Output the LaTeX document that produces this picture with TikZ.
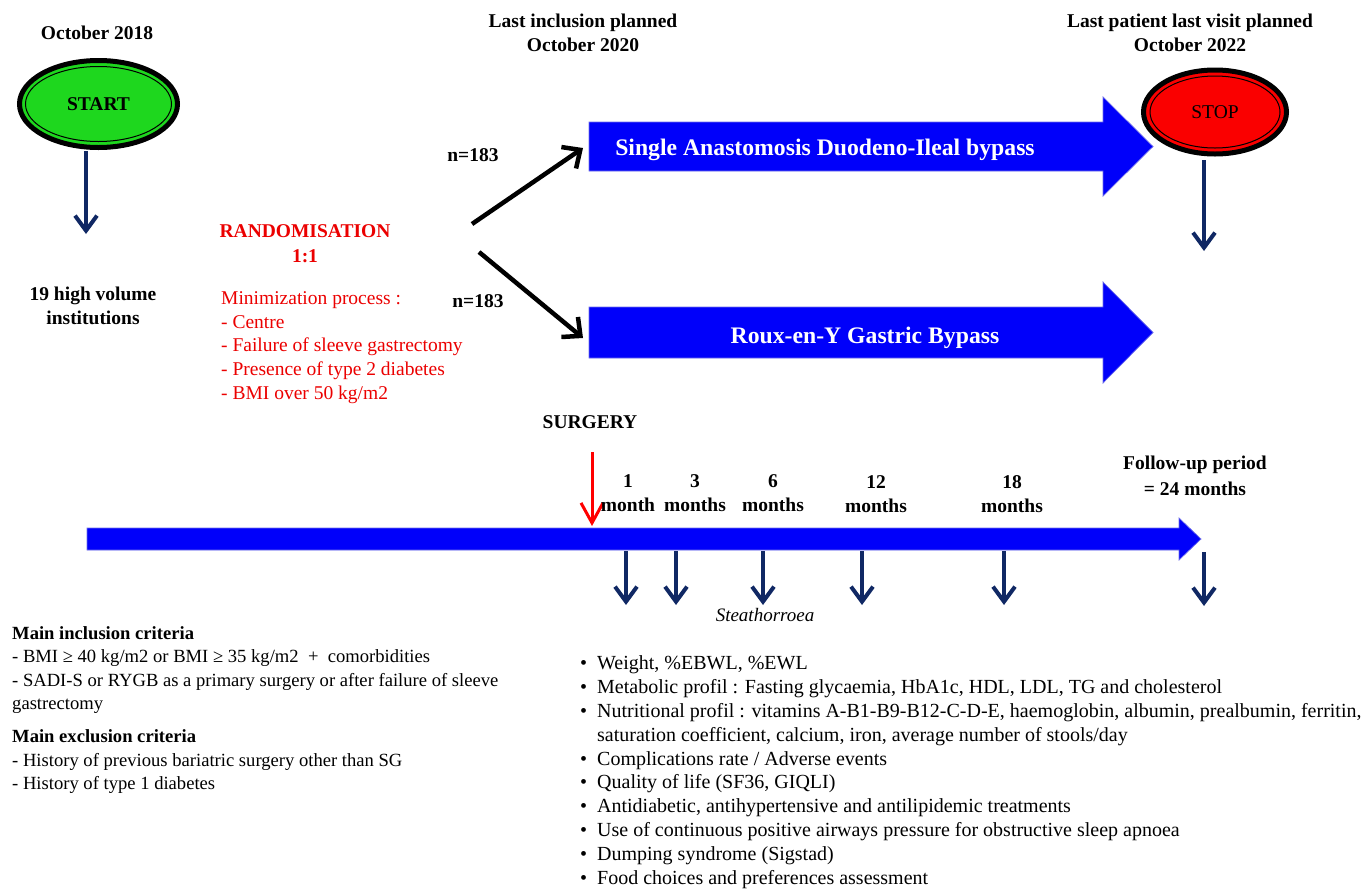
\documentclass[tikz,border=0pt]{standalone}
\usepackage{fontspec}
\setmainfont{Liberation Serif}
\usetikzlibrary{arrows.meta,shapes.geometric}
\definecolor{navy}{RGB}{16,40,100}
\definecolor{bigblue}{RGB}{0,0,250}
\definecolor{bigedge}{RGB}{110,110,235}
\definecolor{startgreen}{RGB}{30,215,30}
\definecolor{stopred}{RGB}{250,0,0}
\definecolor{txtred}{RGB}{235,0,0}
\begin{document}
\begin{tikzpicture}[x=1pt,y=-1pt,
  bt/.style={font=\fontsize{19.5}{24}\selectfont\bfseries, align=center, inner sep=0},
  navyarr/.style={draw=navy, line width=4pt, -{Straight Barb[length=15pt,width=22pt]}},
  blackarr/.style={draw=black, line width=4.5pt, -{Straight Barb[length=14pt,width=26pt]}},
  redarr/.style={draw=red, line width=3pt, -{Straight Barb[length=20pt,width=22pt]}},
  bigarrow/.style={fill=bigblue, draw=bigedge, line width=0.7pt},
  oval/.style={ellipse, draw=black, line width=5pt, inner sep=0, font=\fontsize{19.5}{24}\selectfont},
  armtext/.style={font=\fontsize{23.7}{28}\selectfont\bfseries, text=white, inner sep=0}
]
\useasboundingbox (0,0) rectangle (1365,892);

% ---------- top labels ----------
\node[bt] (oct18) at (97,33) {October 2018};
\node[bt] (lastinc) at (583,33) {Last inclusion planned\\October 2020};
\node[bt] (lastvis) at (1190,33) {Last patient last visit planned\\October 2022};

% ---------- START ----------
\node[oval, fill=startgreen, minimum width=158, minimum height=87, font=\fontsize{19.5}{24}\selectfont\bfseries] (start) at (98.5,104) {START};
\draw[line width=1pt] (start.center) ellipse [x radius=73, y radius=37.5];
\node[bt] (inst) at (93,306) {19 high volume\\institutions};
\coordinate (startout) at (86,151);
\coordinate (startend) at (86,234);
\draw[navyarr] (startout) -- (startend);

% ---------- randomisation ----------
\node[bt, text=txtred, font=\fontsize{19.5}{25}\selectfont\bfseries] (rand) at (305,244) {RANDOMISATION\\1:1};
\node[anchor=north west, inner sep=0, text=txtred, font=\fontsize{19.5}{23.6}\selectfont] (mini) at (221,288)
 {\begin{tabular}{@{}l@{}}
 Minimization process :\\
 - Centre\\
 - Failure of sleeve gastrectomy\\
 - Presence of type 2 diabetes\\
 - BMI over 50 kg/m2
 \end{tabular}};

\node[bt] (n1) at (473,155) {n=183};
\node[bt] (n2) at (478,301) {n=183};

\coordinate (fork1) at (472,224);
\coordinate (fork2) at (479,252);
\coordinate (sadiin) at (583,148);
\coordinate (rygbin) at (583,338);
\draw[blackarr] (fork1) -- (sadiin);
\draw[blackarr] (fork2) -- (rygbin);

% ---------- treatment arms ----------
\path[bigarrow] (589,122) -- (1103,122) -- (1103,97) -- (1153,146.5) -- (1103,196) -- (1103,171) -- (589,171) -- cycle;
\path[bigarrow] (589,307) -- (1103,307) -- (1103,282) -- (1153,332.5) -- (1103,383) -- (1103,358) -- (589,358) -- cycle;
\node[armtext] (sadi) at (825,150) {Single Anastomosis Duodeno-Ileal bypass};
\node[armtext] (rygb) at (865,338) {Roux-en-Y Gastric Bypass};

% ---------- STOP ----------
\node[oval, fill=stopred, minimum width=143, minimum height=84] (stop) at (1215,112) {STOP};
\draw[line width=1pt] (stop.center) ellipse [x radius=65, y radius=36];
\coordinate (stopout) at (1204,160);
\coordinate (stopend) at (1204,251);
\draw[navyarr] (stopout) -- (stopend);

% ---------- surgery and timeline ----------
\node[bt] (surgery) at (590,422) {SURGERY};
\coordinate (sgtop) at (592,452);
\coordinate (sgtip) at (592,526);
\draw[redarr] (sgtop) -- (sgtip);

\path[bigarrow] (87,528) -- (1179,528) -- (1179,518) -- (1201,539) -- (1179,560) -- (1179,550) -- (87,550) -- cycle;

\node[bt] (m1) at (628,493) {1\\month};
\node[bt] (m3) at (695,493) {3\\months};
\node[bt] (m6) at (773,493) {6\\months};
\node[bt] (m12) at (876,494) {12\\months};
\node[bt] (m18) at (1012,494) {18\\months};
\node[bt, font=\fontsize{19.5}{26}\selectfont\bfseries] (m24) at (1195,476) {Follow-up period\\= 24 months};

\foreach \n/\x in {a/626,b/676,c/763,d/862,e/1004} {
  \coordinate (v\n) at (\x,551);
  \coordinate (w\n) at (\x,605);
  \draw[navyarr] (v\n) -- (w\n);
}
\coordinate (vf) at (1204,552);
\coordinate (wf) at (1204,606);
\draw[navyarr] (vf) -- (wf);

\node[inner sep=0, font=\fontsize{19}{23}\selectfont\itshape] (steat) at (765,615) {Steathorroea};

% ---------- criteria ----------
\node[anchor=north west, inner sep=0, font=\fontsize{18.6}{23.3}\selectfont] (criteria) at (12,623)
 {\begin{tabular}{@{}l@{}}
 \textbf{Main inclusion criteria}\\
 - BMI ≥ 40 kg/m2 or BMI ≥ 35 kg/m2\ \ +\ \ comorbidities\\
 - SADI-S or RYGB as a primary surgery or after failure of sleeve\\
 gastrectomy\\[10pt]
 \textbf{Main exclusion criteria}\\
 - History of previous bariatric surgery other than SG\\
 - History of type 1 diabetes
 \end{tabular}};

% ---------- outcomes ----------
\node[anchor=north west, inner sep=0, font=\fontsize{20}{23.8}\selectfont] (outcomes) at (580,653)
 {\begin{tabular}{@{}p{17pt}@{}l@{}}
 •&Weight, \%EBWL, \%EWL\\
 •&Metabolic profil : Fasting glycaemia, HbA1c, HDL, LDL, TG and cholesterol\\
 •&Nutritional profil : vitamins A-B1-B9-B12-C-D-E, haemoglobin, albumin, prealbumin, ferritin,\\
 &saturation coefficient, calcium, iron, average number of stools/day\\
 •&Complications rate / Adverse events\\
 •&Quality of life (SF36, GIQLI)\\
 •&Antidiabetic, antihypertensive and antilipidemic treatments\\
 •&Use of continuous positive airways pressure for obstructive sleep apnoea\\
 •&Dumping syndrome (Sigstad)\\
 •&Food choices and preferences assessment
 \end{tabular}};
\end{tikzpicture}
\end{document}
